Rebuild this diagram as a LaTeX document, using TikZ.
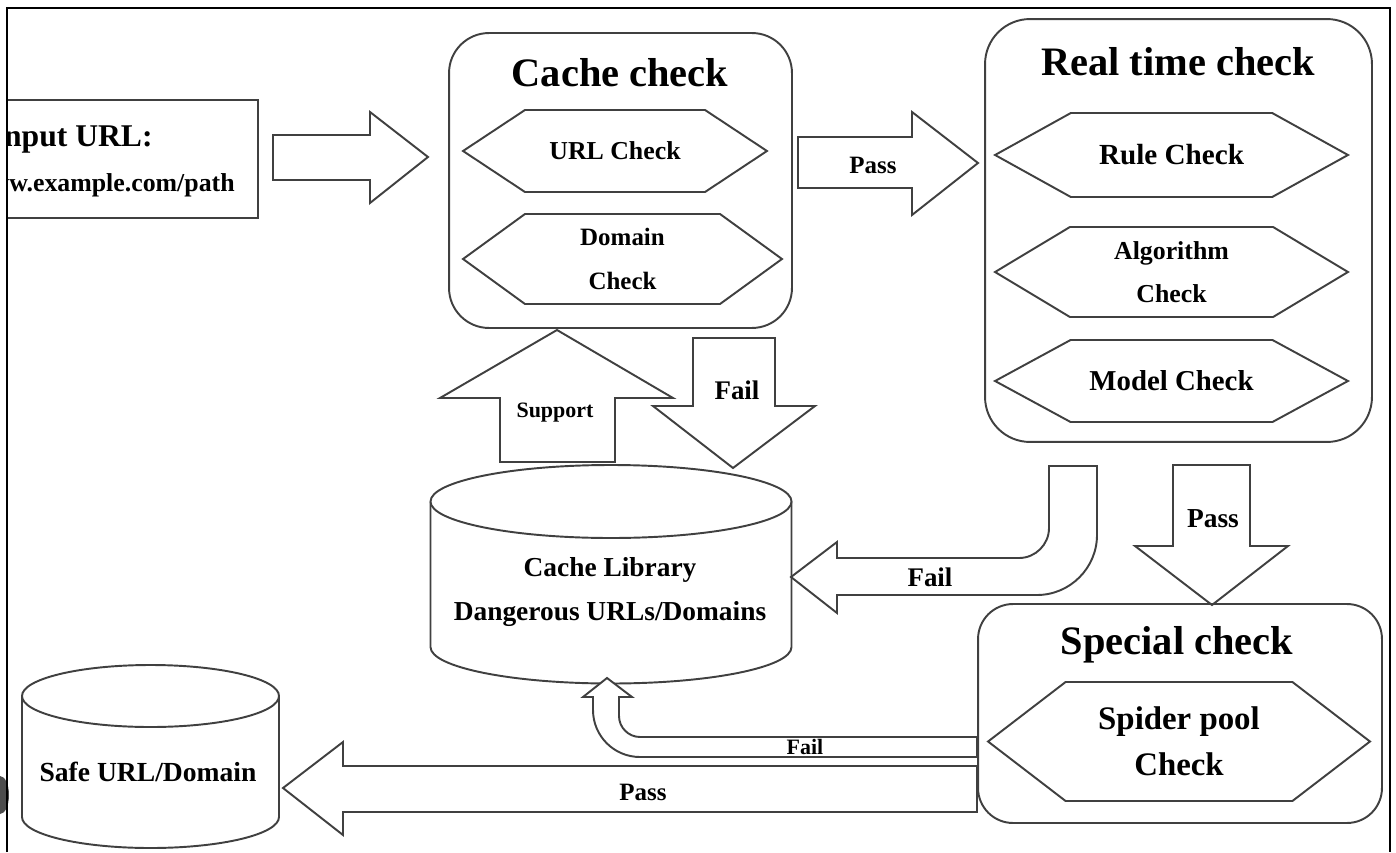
\documentclass[tikz,border=0pt]{standalone}
\usepackage{fontspec}
\setmainfont{Liberation Serif}
\usetikzlibrary{shapes.symbols}

\begin{document}
\begin{tikzpicture}[x=0.02cm, y=-0.02cm]
\tikzstyle{box} = [rectangle, draw=black!75, line width=1.1pt, rounded corners=0.8cm]
\tikzstyle{hexa} = [signal, signal to=west and east, draw=black!75, line width=1.1pt,
    fill=white, align=center, inner sep=0pt]
\tikzstyle{title} = [font=\bfseries\fontsize{23}{27}\selectfont, inner sep=0pt]
\tikzstyle{fat} = [draw=black!75, line width=1.1pt, fill=white, line join=miter]
\tikzstyle{db} = [draw=black!75, line width=1.1pt, fill=white]
\tikzstyle{lbl} = [font=\bfseries\fontsize{14.5}{17}\selectfont, inner sep=0pt, align=center]

\useasboundingbox (0,0) rectangle (1396,852);

% Frame
\fill[black!70] (0,795) ellipse [x radius=9, y radius=19];
\draw[line width=1.6pt] (7,852) -- (7,8) -- (1390,8) -- (1390,852);

% Input
\begin{scope}
\clip (8,9) rectangle (1389,852);
\node[draw=black!75, line width=1.1pt, minimum width=6.4cm, minimum height=2.36cm] (input) at (98,159) {};
\node[lbl, font=\bfseries\fontsize{18}{20}\selectfont, anchor=east] (inputlbl) at (153,140) {Input URL:};
\node[lbl, font=\bfseries\fontsize{14.7}{17}\selectfont, anchor=east] (urllbl) at (235,185) {www.example.com/path};
\end{scope}
\draw[fat] (273,135) -- (370,135) -- (370,112) -- (428,157) -- (370,203) -- (370,180) -- (273,180) -- cycle;

% Cache check
\node[box, minimum width=6.86cm, minimum height=5.9cm] (cache) at (620.5,180.5) {};
\node[title] (cachetitle) at (620,73) {Cache check};
\node[hexa, signal pointer angle=67, minimum width=6.08cm, minimum height=1.64cm,
    font=\bfseries\fontsize{14.7}{17}\selectfont] (urlchk) at (615,151) {URL Check};
\node[hexa, signal pointer angle=72, minimum width=6.38cm, minimum height=1.8cm,
    font=\bfseries\fontsize{14.2}{25.5}\selectfont] (domchk) at (622.5,259) {Domain\\Check};

% Pass to real time
\draw[fat] (798,137) -- (912,137) -- (912,112) -- (978,163) -- (912,215) -- (912,188) -- (798,188) -- cycle;
\node[lbl, font=\bfseries\fontsize{14.2}{17}\selectfont] (pass1) at (873,165) {Pass};

% Real time check
\node[box, rounded corners=0.9cm, minimum width=7.74cm, minimum height=8.46cm] (realtime) at (1178.5,230.5) {};
\node[title] (realtitle) at (1178,62) {Real time check};
\node[hexa, signal pointer angle=58, minimum width=7.06cm, minimum height=1.68cm,
    font=\bfseries\fontsize{16.6}{19}\selectfont] (rulechk) at (1171.5,155) {Rule Check};
\node[hexa, signal pointer angle=62, minimum width=7.06cm, minimum height=1.8cm,
    font=\bfseries\fontsize{14.7}{24.4}\selectfont] (algchk) at (1171.5,272) {Algorithm\\Check};
\node[hexa, signal pointer angle=57, minimum width=7.06cm, minimum height=1.64cm,
    font=\bfseries\fontsize{16.4}{19}\selectfont] (modelchk) at (1171.5,381) {Model Check};

% Support and Fail
\draw[fat] (500,462) -- (500,398) -- (440,398) -- (557,330) -- (673,398) -- (615,398) -- (615,462) -- cycle;
\node[lbl, font=\bfseries\fontsize{12.5}{15}\selectfont] (support) at (555,413) {Support};
\draw[fat] (693,338) -- (775,338) -- (775,406) -- (815,406) -- (733,468) -- (653,406) -- (693,406) -- cycle;
\node[lbl, font=\bfseries\fontsize{15.3}{17}\selectfont] (fail1) at (737,390) {Fail};

% Cache library
\draw[db] (430.5,501.5) -- (430.5,647) arc[start angle=180, end angle=0, x radius=180.5, y radius=36.5] -- (791.5,501.5);
\draw[db] (611,501.5) ellipse [x radius=180.5, y radius=36.5];
\node[lbl, font=\bfseries\fontsize{15.6}{25.5}\selectfont] (cachelib) at (610,592) {Cache Library\\Dangerous URLs/Domains};

% Fail from real time
\draw[fat] (1049,466) -- (1049,528) .. controls (1049,544.5) and (1035.5,558) .. (1019,558) -- (837,558)
    -- (837,542) -- (791,577) -- (837,613) -- (837,595) -- (1037,595)
    .. controls (1070,595) and (1097,568) .. (1097,535) -- (1097,466) -- cycle;
\node[lbl, font=\bfseries\fontsize{15.3}{17}\selectfont] (fail2) at (930,577) {Fail};

% Pass to special
\draw[fat] (1173,465) -- (1250,465) -- (1250,546) -- (1288,546) -- (1212,605) -- (1135,546) -- (1173,546) -- cycle;
\node[lbl, font=\bfseries\fontsize{15.6}{17}\selectfont] (pass2) at (1213,519) {Pass};

% Special check
\node[box, rounded corners=0.7cm, minimum width=8.08cm, minimum height=4.38cm] (special) at (1180,713.5) {};
\node[title] (spectitle) at (1177,645) {Special check};
\node[hexa, signal pointer angle=75, minimum width=7.64cm, minimum height=2.38cm,
    font=\bfseries\fontsize{18.7}{26}\selectfont] (spiderchk) at (1179,741.5) {Spider pool\\Check};

% Fail and Pass from special
\draw[fat] (977,737) -- (640,737) .. controls (628.5,737) and (619,727.5) .. (619,716) -- (619,697)
    -- (632,697) -- (607,678) -- (583,697) -- (593,697) -- (593,710)
    .. controls (593,736) and (614,757) .. (640,757) -- (977,757) -- cycle;
\node[lbl, font=\bfseries\fontsize{12.5}{14}\selectfont] (fail3) at (805,747) {Fail};
\draw[fat] (977,766) -- (343,766) -- (343,742) -- (283,788) -- (343,835) -- (343,812) -- (977,812) -- cycle;
\node[lbl, font=\bfseries\fontsize{14.2}{17}\selectfont] (pass3) at (643,792) {Pass};

% Safe
\draw[db] (22,696) -- (22,817) arc[start angle=180, end angle=0, x radius=128.5, y radius=31] -- (279,696);
\draw[db] (150.5,696) ellipse [x radius=128.5, y radius=31];
\node[lbl, font=\bfseries\fontsize{15.7}{18}\selectfont] (safe) at (148,772) {Safe URL/Domain};
\end{tikzpicture}
\end{document}
